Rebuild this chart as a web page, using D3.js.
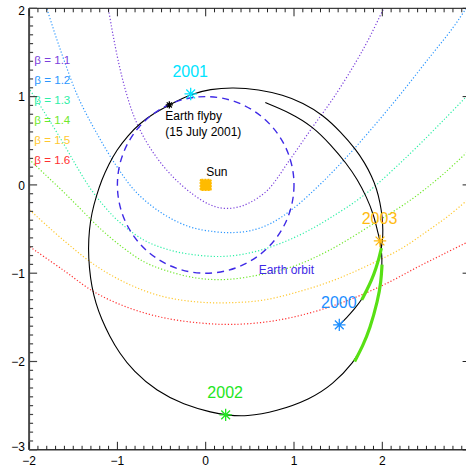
<!DOCTYPE html>
<html>
<head>
<meta charset="utf-8">
<script src="https://cdn.jsdelivr.net/npm/d3@7"></script>
<style>
  body { margin: 0; background: #fff; }
  svg { display: block; }
  text { font-family: "Liberation Sans", Arial, Helvetica, sans-serif; }
</style>
</head>
<body>
<svg id="chart" width="466" height="467"></svg>
<script>
// ---- data (heliocentric coordinates, AU) ----
const betaLabels = ["β = 1.1", "β = 1.2", "β = 1.3", "β = 1.4", "β = 1.5", "β = 1.6"];

const beta11 = [[-1.14,2.2],[-1.103,2.0],[-1.05,1.70],[-0.985,1.38],[-0.905,1.06],[-0.81,0.77],[-0.69,0.52],
  [-0.54,0.29],[-0.36,0.08],[-0.14,-0.11],[0.05,-0.225],[0.2,-0.265],[0.35,-0.255],[0.5,-0.2],[0.7,-0.06],
  [0.95,0.28],[1.2,0.64],[1.45,0.99],[1.7,1.39],[1.85,1.66],[2.008,1.982],[2.1,2.16]];
const beta12 = [[-1.86,2.2],[-1.80,2.0],[-1.71,1.72],[-1.60,1.40],[-1.443,0.99],[-1.234,0.585],[-1.008,0.21],
  [-0.78,-0.09],[-0.48,-0.33],[-0.18,-0.475],[0.1,-0.53],[0.3,-0.54],[0.5,-0.52],[0.73,-0.44],[1.0,-0.26],
  [1.3,0.01],[1.6,0.32],[1.9,0.66],[2.2,1.02],[2.5,1.40],[2.8,1.78],[2.95,2.0],[3.02,2.1]];
const beta13 = [[-2.05,1.16],[-2.0,1.09],[-1.8,0.78],[-1.6,0.45],[-1.45,0.19],[-1.3,-0.05],[-1.15,-0.24],
  [-1.0,-0.40],[-0.7,-0.625],[-0.4,-0.74],[-0.1,-0.795],[0.2,-0.81],[0.5,-0.77],[0.8,-0.68],[1.1,-0.55],
  [1.4,-0.38],[1.8,-0.11],[2.3,0.34],[2.7,0.74],[3.0,1.05]];
const beta14 = [[-2.05,0.34],[-2.0,0.29],[-1.8,0.10],[-1.6,-0.09],[-1.4,-0.29],[-1.2,-0.49],[-0.95,-0.70],
  [-0.7,-0.87],[-0.45,-0.97],[-0.1,-1.055],[0.25,-1.07],[0.65,-1.01],[1.0,-0.92],[1.4,-0.74],[1.9,-0.44],
  [2.35,-0.15],[2.7,0.13],[3.0,0.41]];
const beta15 = [[-2.05,-0.24],[-2.0,-0.28],[-1.6,-0.635],[-1.23,-0.925],[-0.85,-1.135],[-0.48,-1.265],
  [-0.1,-1.325],[0.25,-1.335],[0.65,-1.305],[1.05,-1.21],[1.45,-1.08],[1.82,-0.92],[2.2,-0.73],[2.5,-0.53],
  [2.75,-0.35],[3.0,-0.14]];
const beta16 = [[-2.05,-0.66],[-2.0,-0.695],[-1.62,-0.96],[-1.25,-1.22],[-0.85,-1.40],[-0.45,-1.51],
  [-0.05,-1.565],[0.3,-1.58],[0.7,-1.55],[1.064,-1.48],[1.44,-1.37],[1.8,-1.23],[2.1,-1.09],[2.4,-0.93],
  [2.7,-0.78],[3.0,-0.63]];
const betaCurves = [beta11, beta12, beta13, beta14, beta15, beta16];

// spacecraft path, 2000 -> 2003 and beyond
const trajectory = [[1.513,-1.585],[1.60,-1.50],[1.68,-1.41],[1.767,-1.302],[1.825,-1.19],[1.88,-1.076],
  [1.93,-0.94],[1.965,-0.82],[1.99,-0.717],[2.003,-0.62],[2.008,-0.52],[2.0,-0.36],[1.975,-0.2],[1.935,-0.04],
  [1.88,0.10],[1.80,0.25],[1.706,0.396],[1.53,0.60],[1.328,0.793],[1.10,0.93],[0.875,1.019],[0.60,1.08],
  [0.309,1.106],[0.05,1.085],[-0.17,1.03],[-0.412,0.906],[-0.58,0.815],[-0.744,0.70],[-0.88,0.56],
  [-1.008,0.396],[-1.10,0.23],[-1.178,0.057],[-1.24,-0.13],[-1.291,-0.32],[-1.318,-0.50],[-1.331,-0.72],
  [-1.318,-0.95],[-1.291,-1.15],[-1.245,-1.34],[-1.18,-1.52],[-1.09,-1.71],[-0.98,-1.90],[-0.82,-2.11],
  [-0.555,-2.336],[-0.254,-2.488],[0.086,-2.582],[0.226,-2.605],[0.46,-2.625],[0.8,-2.565],[1.178,-2.43],
  [1.44,-2.26],[1.687,-2.0],[1.78,-1.82],[1.857,-1.64],[1.951,-1.3],[1.985,-1.10],[1.997,-0.903],
  [1.995,-0.80],[1.985,-0.70],[1.968,-0.61],[1.951,-0.544],[1.90,-0.33],[1.819,-0.132],[1.72,0.06],
  [1.593,0.245],[1.42,0.45],[1.215,0.66],[0.95,0.82],[0.675,0.932]];
// highlighted arcs of the path (start point, end point)
const highlightArcs = [[[1.767,-1.302],[1.99,-0.717]], [[1.687,-2.0],[1.997,-0.903]]];

const years = ["2000", "2001", "2002", "2003"];
const yearPositions = [[1.513,-1.585],[-0.17,1.03],[0.226,-2.605],[1.974,-0.635]];
const flybyPosition = [-0.412, 0.906];
const flybyLines = ["Earth flyby", "(15 July 2001)"];
const sunPosition = [0, 0];
const earthOrbitRadius = 1;

const xTicks = [-2, -1, 0, 1, 2, 3];
const yTicks = [-3, -2, -1, 0, 1, 2];
const xTickLabels = ["−2", "−1", "0", "1", "2", ""];
const yTickLabels = ["−3", "−2", "−1", "0", "1", "2"];

// ---- styling ----
const betaColors = ["#7a40dc", "#2a96ff", "#2eefa6", "#6fe82a", "#ffc830", "#ff3030"];
const yearColors = ["#1e8fff", "#00e4ff", "#22e622", "#ffbb10"];
const orbitColor = "#3f2ae6";
const highlightColor = "#58e014";
const sunColor = "#ffbb00";

const svg = d3.select("#chart");
const plotLeft = 29.1, plotRight = 470.6, plotTop = 8.3, plotBottom = 449.8;
const x = d3.scaleLinear().domain([-2, 3]).range([plotLeft, plotRight]);
const y = d3.scaleLinear().domain([-3, 2]).range([plotBottom, plotTop]);

svg.append("defs").append("clipPath").attr("id", "plotClip")
  .append("rect").attr("x", plotLeft).attr("y", plotTop)
  .attr("width", plotRight - plotLeft).attr("height", plotBottom - plotTop);

const plot = svg.append("g").attr("clip-path", "url(#plotClip)");
const line = d3.line().x(d => x(d[0])).y(d => y(d[1])).curve(d3.curveCatmullRom.alpha(0.5));
const smoothLine = d3.line().x(d => x(d[0])).y(d => y(d[1])).curve(d3.curveBasis);

// dotted beta trajectories
plot.selectAll("path.beta").data(betaCurves).join("path")
  .attr("class", "beta")
  .attr("d", line)
  .attr("fill", "none")
  .attr("stroke", (d, i) => betaColors[i])
  .attr("stroke-width", 1.2)
  .attr("stroke-dasharray", "1.2 2");

// spacecraft path
plot.append("path").datum(trajectory)
  .attr("d", smoothLine).attr("fill", "none").attr("stroke", "#000").attr("stroke-width", 1.1);

// thick highlighted arcs on top of the path
const indexOf = p => trajectory.findIndex(q => q[0] === p[0] && q[1] === p[1]);
plot.selectAll("path.arc").data(highlightArcs.map(([a, b]) => trajectory.slice(indexOf(a), indexOf(b) + 1)))
  .join("path").attr("class", "arc")
  .attr("d", smoothLine)
  .attr("fill", "none").attr("stroke", highlightColor)
  .attr("stroke-width", 3.2).attr("stroke-linecap", "butt");

// Earth orbit
const rpx = x(earthOrbitRadius) - x(0);
plot.append("circle")
  .attr("cx", x(0)).attr("cy", y(0)).attr("r", rpx)
  .attr("fill", "none").attr("stroke", orbitColor).attr("stroke-width", 1.4)
  .attr("stroke-dasharray", "7 5");

// asterisk marker
function asterisk(g, cx, cy, r, color, w) {
  const d = r * Math.SQRT1_2;
  g.append("path")
    .attr("d", `M${cx - r},${cy}L${cx + r},${cy}M${cx},${cy - r}L${cx},${cy + r}` +
               `M${cx - d},${cy - d}L${cx + d},${cy + d}M${cx - d},${cy + d}L${cx + d},${cy - d}`)
    .attr("stroke", color).attr("stroke-width", w).attr("fill", "none");
}

// Sun
plot.append("rect")
  .attr("x", x(sunPosition[0]) - 5.5).attr("y", y(sunPosition[1]) - 5.5)
  .attr("width", 11).attr("height", 11).attr("rx", 1.2)
  .attr("fill", sunColor).attr("stroke", sunColor).attr("stroke-width", 1.2)
  .attr("stroke-dasharray", "2 1");
svg.append("text").attr("x", x(sunPosition[0]) + 0.5).attr("y", y(sunPosition[1]) - 8.5)
  .attr("font-size", 12).attr("fill", "#000").text("Sun");

// Earth flyby
asterisk(plot, x(flybyPosition[0]), y(flybyPosition[1]), 3.6, "#000", 1.3);
flybyLines.forEach((t, i) => {
  svg.append("text").attr("x", x(flybyPosition[0]) - 4).attr("y", y(flybyPosition[1]) + 15 + i * 16)
    .attr("font-size", 12).attr("fill", "#000").text(t);
});

// Earth orbit label
svg.append("text").attr("x", x(0.6)).attr("y", y(-1.005))
  .attr("font-size", 12).attr("fill", orbitColor).text("Earth orbit");

// year markers
years.forEach((t, i) => {
  const px = x(yearPositions[i][0]), py = y(yearPositions[i][1]);
  asterisk(plot, px, py, 6.2, yearColors[i], 1.3);
  svg.append("text").attr("x", px - 0.5).attr("y", py - 17)
    .attr("text-anchor", "middle").attr("font-size", 16).attr("fill", yearColors[i]).text(t);
});

// legend
betaLabels.forEach((t, i) => {
  svg.append("text").attr("x", 34.3).attr("y", 64.3 + i * 20)
    .attr("font-size", 11.6).attr("fill", betaColors[i]).text(t);
});

// ---- axes ----
const axes = svg.append("g");
const minorX = d3.range(-2, 3.0001, 0.1).map(v => +v.toFixed(2));
const minorY = d3.range(-3, 2.0001, 0.1).map(v => +v.toFixed(2));
const isMajor = v => Math.abs(v - Math.round(v)) < 1e-6;

// frame lines
axes.append("line").attr("x1", plotLeft).attr("x2", plotLeft).attr("y1", plotTop).attr("y2", plotBottom)
  .attr("stroke", "#4a4a4a").attr("stroke-width", 2);
axes.append("line").attr("x1", plotLeft).attr("x2", plotRight).attr("y1", plotBottom).attr("y2", plotBottom)
  .attr("stroke", "#333").attr("stroke-width", 1.6);
axes.append("line").attr("x1", plotLeft).attr("x2", plotRight).attr("y1", plotTop).attr("y2", plotTop)
  .attr("stroke", "#111").attr("stroke-width", 1);
axes.append("line").attr("x1", plotRight).attr("x2", plotRight).attr("y1", plotTop).attr("y2", plotBottom)
  .attr("stroke", "#111").attr("stroke-width", 1);

// ticks pointing into the plot on all four sides
minorX.forEach(v => {
  const len = isMajor(v) ? 8 : 4;
  axes.append("line").attr("x1", x(v)).attr("x2", x(v)).attr("y1", plotBottom).attr("y2", plotBottom - len)
    .attr("stroke", "#222").attr("stroke-width", 1);
  axes.append("line").attr("x1", x(v)).attr("x2", x(v)).attr("y1", plotTop).attr("y2", plotTop + len)
    .attr("stroke", "#222").attr("stroke-width", 1);
});
minorY.forEach(v => {
  const len = isMajor(v) ? 8 : 4;
  axes.append("line").attr("x1", plotLeft).attr("x2", plotLeft + len).attr("y1", y(v)).attr("y2", y(v))
    .attr("stroke", "#444").attr("stroke-width", 1.2);
  axes.append("line").attr("x1", plotRight).attr("x2", plotRight - len).attr("y1", y(v)).attr("y2", y(v))
    .attr("stroke", "#222").attr("stroke-width", 1);
});

// tick labels
xTicks.forEach((v, i) => {
  axes.append("text").attr("x", x(v)).attr("y", 465)
    .attr("text-anchor", "middle").attr("font-size", 12).attr("fill", "#000").text(xTickLabels[i]);
});
yTicks.forEach((v, i) => {
  const shift = v === 2 ? 2.5 : (v === -3 ? -3.5 : 0.3);
  axes.append("text").attr("x", 25).attr("y", y(v) + 4.5 + shift)
    .attr("text-anchor", "end").attr("font-size", 12).attr("fill", "#000").text(yTickLabels[i]);
});
</script>
</body>
</html>
